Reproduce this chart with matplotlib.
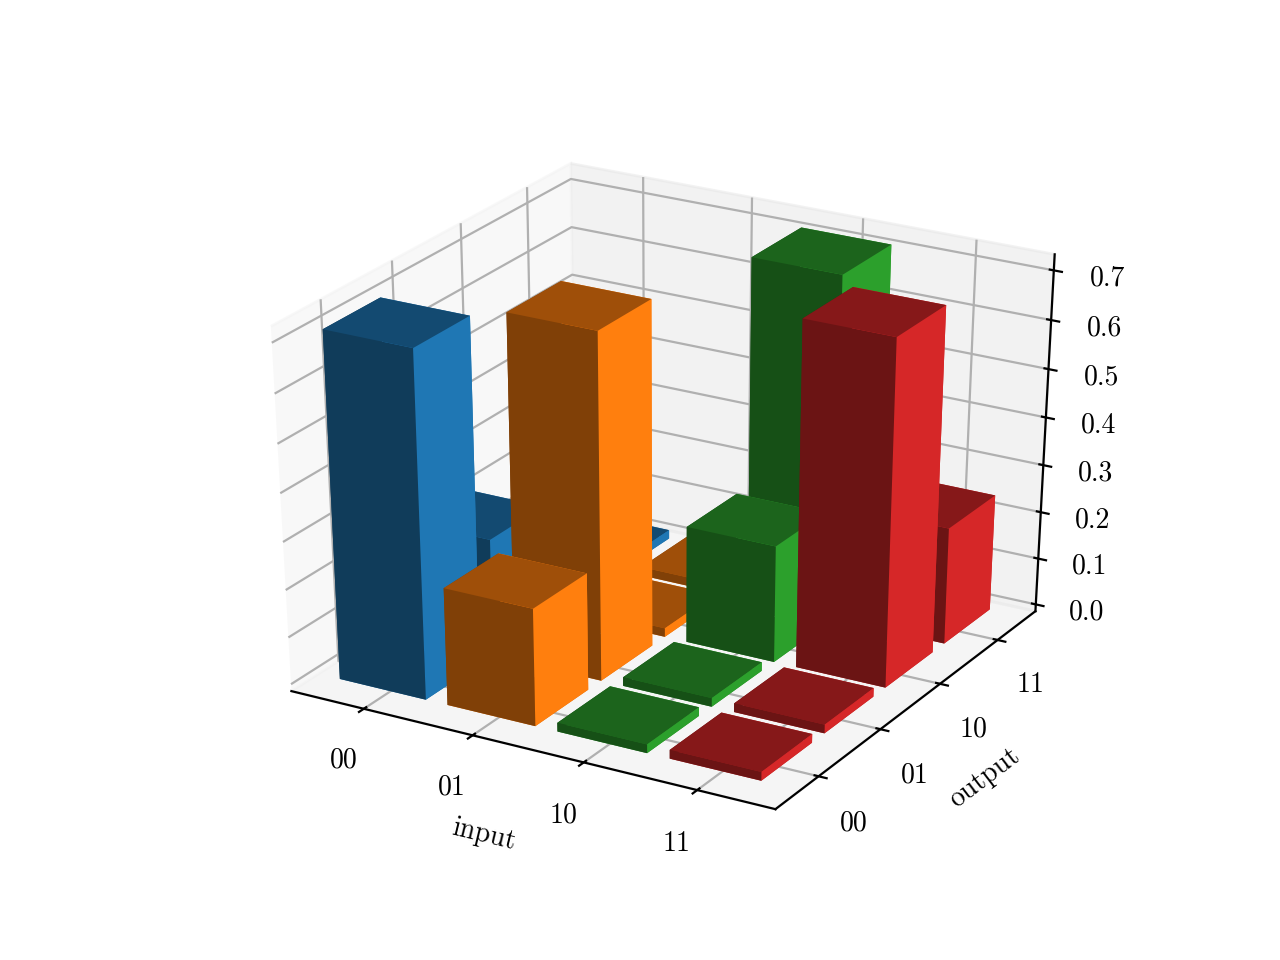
import numpy as np
import matplotlib
matplotlib.use("Agg")
import matplotlib.pyplot as plt
from matplotlib.colors import to_rgb

plt.rcParams['font.family'] = ['cmr10', 'DejaVu Serif']
plt.rcParams['axes.unicode_minus'] = False
plt.rcParams['axes.formatter.use_mathtext'] = True

labels = ['00', '01', '10', '11']
z_ticks = [0.0, 0.1, 0.2, 0.3, 0.4, 0.5, 0.6, 0.7]

# bar heights per input (outputs 00, 01, 10, 11)
input_00 = [0.717, 0.246, 0.0185, 0.0185]
input_01 = [0.246, 0.717, 0.0185, 0.0185]
input_10 = [0.0185, 0.0185, 0.246, 0.717]
input_11 = [0.0185, 0.0185, 0.717, 0.246]
heights = [input_00, input_01, input_10, input_11]

colors = ['tab:blue', 'tab:orange', 'tab:green', 'tab:red']
# face brightness: -z, +z, -y, +y, -x, +x
shades = [0.875, 0.625, 0.5, 1.0, 0.5, 1.0]
width = 0.8

fig = plt.figure(figsize=(6.4, 4.8), dpi=200)
ax = fig.add_subplot(projection='3d', computed_zorder=False)
# let the cube stretch over the whole axes rectangle
ax.apply_aspect = lambda position=None: None
ax.set_box_aspect((1, 1, 1), zoom=0.947)

# paint from the far corner to the near one
order = 0
for i, row in enumerate(heights):
    base = np.array(to_rgb(colors[i]))
    faces = [tuple(base * s) for s in shades]
    for j in range(3, -1, -1):
        order += 1
        ax.bar3d(i - width / 2, j - width / 2, 0, width, width, row[j],
                 color=faces, shade=False, zsort='average', zorder=order)

ax.set_xticks(range(4))
ax.set_yticks(range(4))
ax.set_xticklabels(labels)
ax.set_yticklabels(labels)
ax.set_zticks(z_ticks)
ax.set_zticklabels([f'{v:.1f}' for v in z_ticks])
ax.tick_params(labelsize=10)
ax.set_xlabel('input')
ax.set_ylabel('output')

fig.savefig('out.png', dpi=200)
